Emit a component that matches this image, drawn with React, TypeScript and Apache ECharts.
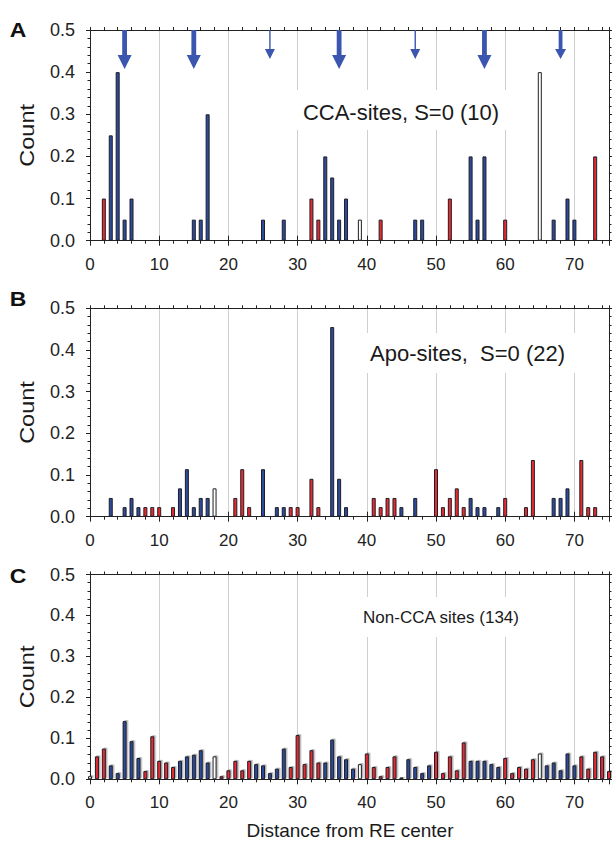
import React, { useEffect, useRef } from 'react';
import * as echarts from 'echarts';

// Panel A: CCA-sites, S=0 (10)
const aBlue: [number, number][] = [
  [3, 0.25], [4, 0.4], [5, 0.05], [6, 0.1], [15, 0.05], [16, 0.05], [17, 0.3], [25, 0.05], [28, 0.05],
  [34, 0.2], [35, 0.15], [36, 0.05], [37, 0.1], [47, 0.05], [48, 0.05], [55, 0.2], [56, 0.05], [57, 0.2],
  [67, 0.05], [69, 0.1], [70, 0.05],
];
const aRed: [number, number][] = [[2, 0.1], [32, 0.1], [33, 0.05], [42, 0.05], [52, 0.1], [60, 0.05], [73, 0.2]];
const aWhite: [number, number][] = [[39, 0.05], [65, 0.4]];
const arrowsThick = [5, 15, 36, 57];
const arrowsThin = [26, 47];
const arrowsMedium = [68];

// Panel B: Apo-sites, S=0 (22)
const bBlue: [number, number][] = [
  [3, 0.045], [5, 0.023], [6, 0.045], [7, 0.023], [13, 0.068], [14, 0.114], [15, 0.023], [16, 0.045], [17, 0.045],
  [25, 0.114], [27, 0.023], [28, 0.023], [35, 0.455], [36, 0.091], [37, 0.023], [45, 0.023], [47, 0.045],
  [55, 0.045], [56, 0.023], [57, 0.023], [59, 0.023], [67, 0.045], [68, 0.045], [69, 0.068],
];
const bRed: [number, number][] = [
  [8, 0.023], [9, 0.023], [10, 0.023], [12, 0.023], [21, 0.045], [22, 0.114], [23, 0.023], [29, 0.023], [30, 0.023],
  [32, 0.091], [33, 0.023], [41, 0.045], [42, 0.023], [43, 0.045], [44, 0.045], [50, 0.114], [51, 0.023],
  [52, 0.045], [53, 0.068], [54, 0.023], [60, 0.045], [63, 0.023], [64, 0.136], [71, 0.136], [72, 0.023], [73, 0.023],
];
const bWhite: [number, number][] = [[18, 0.068]];

// Panel C: Non-CCA sites (134)
const cBlue: [number, number][] = [
  [3, 0.034], [4, 0.015], [5, 0.142], [6, 0.093], [7, 0.052], [13, 0.045], [14, 0.056], [15, 0.06], [16, 0.071],
  [17, 0.041], [24, 0.037], [25, 0.034], [26, 0.015], [27, 0.026], [28, 0.075], [34, 0.041], [35, 0.097],
  [36, 0.056], [37, 0.049], [38, 0.026], [45, 0.0045], [46, 0.049], [47, 0.03], [48, 0.015], [49, 0.034],
  [55, 0.045], [56, 0.045], [57, 0.045], [58, 0.037], [59, 0.03], [66, 0.034], [67, 0.041], [68, 0.022],
  [69, 0.063], [70, 0.034],
];
const cRed: [number, number][] = [
  [1, 0.056], [2, 0.075], [8, 0.02], [9, 0.105], [10, 0.045], [11, 0.041], [12, 0.03], [19, 0.0075], [20, 0.022],
  [21, 0.045], [22, 0.022], [23, 0.045], [29, 0.03], [30, 0.108], [31, 0.037], [32, 0.071], [33, 0.041],
  [40, 0.063], [41, 0.03], [42, 0.0075], [43, 0.03], [44, 0.056], [50, 0.067], [51, 0.015], [52, 0.056],
  [53, 0.022], [54, 0.09], [60, 0.052], [61, 0.015], [62, 0.03], [63, 0.026], [64, 0.049], [71, 0.056],
  [72, 0.026], [73, 0.067], [74, 0.056], [75, 0.02],
];
const cWhite: [number, number][] = [[0, 0.0075], [18, 0.056], [39, 0.037], [65, 0.063]];

const panelLetters = ['A', 'B', 'C'];
const panelNotes = ['CCA-sites, S=0 (10)', 'Apo-sites,  S=0 (22)', 'Non-CCA sites (134)'];
const xLabel = 'Distance from RE center';
const yLabel = 'Count';

const FONT = '"Liberation Sans", Arial, Helvetica, sans-serif';
const BLUE = '#2c4b9c';
const RED = '#ea2a30';
const EDGE = '#1e1e26';
const ARROW = '#3b56ae';
const AXIS = '#222222';

const grids = [
  { top: 30, height: 210.7 },
  { top: 308.3, height: 208.4 },
  { top: 574.5, height: 204.8 },
];
const noteBoxes = [
  { x: 290, y: 90, w: 222, h: 40, cx: 401, cy: 112.5, fs: 22 },
  { x: 360, y: 333, w: 222, h: 40, cx: 467.5, cy: 353.5, fs: 22 },
  { x: 358, y: 597, w: 166, h: 40, cx: 441, cy: 617, fs: 17 },
];
const letterY = [30, 299, 576];

export default function App() {
  const ref = useRef<HTMLDivElement>(null);
  useEffect(() => {
    if (!ref.current) return;
    const chart = echarts.init(ref.current, undefined, { renderer: 'svg' });
    const xAxes: any[] = [];
    const yAxes: any[] = [];
    const series: any[] = [];
    const graphic: any[] = [];
    const panels = [
      [aBlue, aRed, aWhite],
      [bBlue, bRed, bWhite],
      [cBlue, cRed, cWhite],
    ];
    grids.forEach((g, i) => {
      const base = { type: 'value', gridIndex: i, min: 0, max: 75 };
      xAxes.push({
        ...base, position: 'bottom', interval: 2,
        axisLine: { show: true, onZero: false, lineStyle: { color: AXIS, width: 1 } },
        axisTick: { show: true, inside: false, length: 3, lineStyle: { color: AXIS } },
        axisLabel: {
          show: true, margin: 15, fontSize: 17, fontFamily: FONT, color: AXIS,
          formatter: (v: number) => (v % 10 === 0 ? String(v) : ''),
        },
        splitLine: { show: false },
      });
      xAxes.push({
        ...base, position: 'bottom', interval: 10,
        axisLine: { show: false }, axisLabel: { show: false },
        axisTick: { show: true, inside: false, length: 5, lineStyle: { color: AXIS } },
        splitLine: { show: true, lineStyle: { color: '#cfcfcf', width: 1 } },
      });
      xAxes.push({
        ...base, position: 'top', interval: 2,
        axisLine: { show: true, onZero: false, lineStyle: { color: AXIS, width: 1 } },
        axisTick: { show: true, inside: false, length: 3, lineStyle: { color: AXIS } },
        axisLabel: { show: false }, splitLine: { show: false },
      });
      xAxes.push({
        ...base, position: 'top', interval: 10,
        axisLine: { show: false }, axisLabel: { show: false },
        axisTick: { show: true, inside: false, length: 5, lineStyle: { color: AXIS } },
        splitLine: { show: false },
      });
      const ybase = {
        type: 'value', gridIndex: i, min: 0, max: 0.5, interval: 0.1,
        axisLine: { show: true, onZero: false, lineStyle: { color: AXIS, width: 1 } },
        axisTick: { show: true, inside: false, length: 4, lineStyle: { color: AXIS } },
        minorTick: { show: true, splitNumber: 5, length: 2.5, lineStyle: { color: AXIS } },
        splitLine: { show: false }, minorSplitLine: { show: false },
      };
      yAxes.push({
        ...ybase, position: 'left',
        axisLabel: {
          show: true, margin: 15, fontSize: 18, fontFamily: FONT, color: AXIS,
          formatter: (v: number) => v.toFixed(1),
        },
      });
      yAxes.push({ ...ybase, position: 'right', axisLabel: { show: false } });

      const [blue, red, white] = panels[i];
      const shadow = i === 2
        ? { shadowColor: 'rgba(0,0,0,0.3)', shadowBlur: 1.5, shadowOffsetX: 1.5, shadowOffsetY: -1 }
        : {};
      const mk = (data: [number, number][], color: string) => ({
        type: 'bar', xAxisIndex: i * 4, yAxisIndex: i * 2, data,
        barWidth: 4, barGap: '-100%', clip: true,
        itemStyle: { color, borderColor: EDGE, borderWidth: 1, ...shadow },
        emphasis: { disabled: true },
      });
      series.push(mk(blue, BLUE), mk(red, RED), mk(white, '#ffffff'));

      // annotation
      const nb = noteBoxes[i];
      graphic.push({ type: 'rect', z: 5, shape: { x: nb.x, y: nb.y, width: nb.w, height: nb.h }, style: { fill: '#ffffff' } });
      graphic.push({
        type: 'text', z: 6, x: nb.cx, y: nb.cy,
        style: { text: panelNotes[i], fontSize: nb.fs, fontFamily: FONT, fill: '#1a1a1a', align: 'center', verticalAlign: 'middle' },
      });
      graphic.push({
        type: 'text', z: 6, x: 27, y: g.top + g.height / 2, rotation: Math.PI / 2, scaleX: 1.12,
        style: { text: yLabel, fontSize: 21, fontFamily: FONT, fill: '#1a1a1a', align: 'center', verticalAlign: 'middle' },
      });
      graphic.push({
        type: 'text', z: 6, x: 18, y: letterY[i], scaleX: 1.15,
        style: { text: panelLetters[i], fontSize: 20, fontWeight: 'bold', fontFamily: FONT, fill: '#111', align: 'center', verticalAlign: 'middle' },
      });
    });

    const arrow = (xs: number[], path: string, w: number, h: number) => ({
      type: 'scatter', xAxisIndex: 0, yAxisIndex: 0, clip: false, z: 4,
      data: xs.map((x) => [x, 0.5]),
      symbol: path, symbolSize: [w, h], symbolOffset: [0, h / 2],
      itemStyle: { color: ARROW, opacity: 1 },
      emphasis: { disabled: true },
    });
    series.push(arrow(arrowsThick, 'path://M4.6,0 L9.4,0 L9.4,25 L14,25 L7,39 L0,25 L4.6,25 Z', 14, 39));
    series.push(arrow(arrowsMedium, 'path://M3.6,0 L7.4,0 L7.4,19 L11,19 L5.5,29 L0,19 L3.6,19 Z', 11, 29));
    series.push(arrow(arrowsThin, 'path://M4.3,0 L5.7,0 L5.7,19 L10,19 L5,29 L0,19 L4.3,19 Z', 10, 29));

    graphic.push({
      type: 'text', z: 6, x: 350, y: 830,
      style: { text: xLabel, fontSize: 19, fontFamily: FONT, fill: '#1a1a1a', align: 'center', verticalAlign: 'middle' },
    });

    chart.setOption({
      animation: false,
      backgroundColor: '#ffffff',
      grid: grids.map((g) => ({ left: 90, right: 2, top: g.top, height: g.height, containLabel: false })),
      xAxis: xAxes,
      yAxis: yAxes,
      series,
      graphic,
      tooltip: { show: false },
    });
    return () => chart.dispose();
  }, []);
  return <div ref={ref} style={{ position: 'absolute', left: 0, top: 0, width: 612, height: 848 }} />;
}
